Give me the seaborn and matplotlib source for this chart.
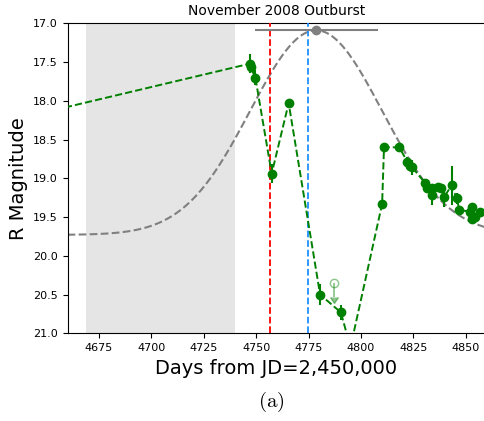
import numpy as np
import pandas as pd
import matplotlib
matplotlib.use("Agg")
import matplotlib.pyplot as plt
import seaborn as sns

# R-band photometry of the November 2008 outburst (days from JD 2,450,000)
days = [4630.0, 4747.1, 4747.4, 4749.6, 4757.4, 4765.5, 4780.5, 4790.4, 4795.0,
        4810.1, 4811.0, 4818.3, 4822.2, 4823.4, 4824.5, 4830.6, 4831.4, 4833.8,
        4833.8, 4836.9, 4838.1, 4839.7, 4843.3, 4845.7, 4847.0, 4852.1, 4852.9,
        4852.9, 4854.5, 4856.9]
r_mag = [18.27, 17.52, 17.57, 17.70, 18.94, 18.03, 20.50, 20.73, 21.18,
         19.33, 18.60, 18.60, 18.79, 18.84, 18.86, 19.06, 19.12, 19.13,
         19.22, 19.11, 19.12, 19.24, 19.09, 19.26, 19.41, 19.43, 19.37,
         19.52, 19.50, 19.43]
r_err = [0.05, 0.12, 0.05, 0.10, 0.12, 0.04, 0.14, 0.10, 0.10,
         0.03, 0.03, 0.03, 0.06, 0.06, 0.10, 0.05, 0.05, 0.05,
         0.13, 0.05, 0.05, 0.13, 0.25, 0.07, 0.03, 0.03, 0.03,
         0.03, 0.03, 0.03]

# Non-detection (upper limit on brightness)
limit_day = [4787.3]
limit_mag = [20.35]
limit_len = [0.18]

# Gaussian outburst model: peak time, peak magnitude, quiescent level, width
peak_day = 4778.6
peak_day_err = 29.3
peak_mag = 17.09
quiescent_mag = 19.73
width_days = 31.5

# Reference epochs and the unobservable window
red_epoch = 4756.6
blue_epoch = 4774.7
gap_start, gap_end = 4669.0, 4740.0

fig = plt.figure(figsize=(4.85, 4.21), dpi=100)
ax = fig.add_axes([0.1394, 0.2083, 0.8606, 0.7363])
ax.set_xlim(4660, 4859.2)
ax.set_ylim(21.0, 17.0)

ax.axvspan(gap_start, gap_end, color="gray", alpha=0.2, lw=0, zorder=0)

t_model = np.linspace(4660, 4859.2, 400)
model = pd.DataFrame({
    "day": t_model,
    "mag": quiescent_mag - (quiescent_mag - peak_mag)
    * np.exp(-(t_model - peak_day) ** 2 / (2 * width_days ** 2)),
})
sns.lineplot(data=model, x="day", y="mag", ax=ax, color="gray",
             linestyle="--", lw=1.5, zorder=2)

ax.axvline(red_epoch, color="red", linestyle="--", lw=1.3, zorder=3)
ax.axvline(blue_epoch, color="#1e90ff", linestyle="--", lw=1.3, zorder=3)

ax.errorbar([peak_day], [peak_mag], xerr=[peak_day_err], fmt="o",
            color="gray", ms=6, lw=1.5, zorder=4)

phot = pd.DataFrame({"day": days, "mag": r_mag})
sns.lineplot(data=phot, x="day", y="mag", ax=ax, color="green",
             linestyle="--", lw=1.4, sort=False, estimator=None, zorder=4)
ax.errorbar(days, r_mag, yerr=r_err, fmt="o", color="green", ms=6,
            lw=1.5, zorder=5)

ax.errorbar(limit_day, limit_mag, yerr=limit_len, lolims=True, fmt="o",
            color="green", mfc="none", ms=6, lw=1.3, alpha=0.45, zorder=5)

ax.set_xticks([4675, 4700, 4725, 4750, 4775, 4800, 4825, 4850])
ax.set_yticks(np.arange(17.0, 21.01, 0.5))
ax.set_yticklabels([f"{v:.1f}" for v in np.arange(17.0, 21.01, 0.5)])
ax.tick_params(labelsize=8)
ax.set_title("November 2008 Outburst", fontsize=10)
ax.set_xlabel("Days from JD=2,450,000", fontsize=14)
ax.set_ylabel("R Magnitude", fontsize=14)

plt.rcParams["mathtext.fontset"] = "cm"
fig.text(271.7 / 485, 1 - 402 / 421, r"$\mathrm{(a)}$", fontsize=15,
         ha="center", va="center")

fig.savefig("out.png", dpi=100)
